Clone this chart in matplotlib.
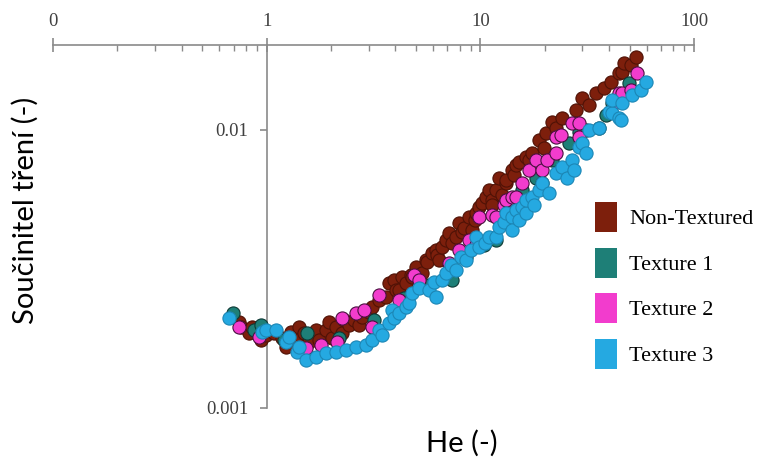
import matplotlib.pyplot as plt
from matplotlib.patches import Patch
from matplotlib.ticker import NullLocator

# Hersey number He (-) and friction coefficient (-)
he_non = [0.740, 0.755, 0.823, 0.850, 0.937, 0.99, 1.079, 1.176, 1.227, 1.296,
          1.382, 1.412, 1.490, 1.573, 1.696, 1.752, 1.889, 1.951, 2.017, 2.104,
          2.245, 2.295, 2.421, 2.556, 2.697, 2.786, 3.004, 3.103, 3.346, 3.610,
          3.728, 3.93, 4.021, 4.151, 4.289, 4.478, 4.73, 4.78, 4.988, 5.32,
          5.56, 5.62, 5.928, 6.19, 6.25, 6.39, 6.60, 6.89, 7.12, 7.35,
          7.68, 7.93, 8.19, 8.37, 8.83, 9.12, 9.42, 9.53, 9.84, 10.16,
          10.61, 10.96, 11.32, 11.32, 11.82, 12.2, 12.61, 13.17, 13.17, 14.05,
          14.35, 14.67, 15.1, 16.33, 16.9, 17.43, 18.8, 19.83, 20.27, 21.62,
          22.58, 24.08, 28.02, 29.88, 32.2, 34.75, 37.9, 40.87, 44.5, 46.0,
          47.0, 50.7, 53.5]
f_non = [0.00204, 0.00196, 0.00186, 0.00196, 0.00176, 0.00183, 0.00186, 0.00179, 0.00166, 0.00188,
         0.00176, 0.00196, 0.00186, 0.00173, 0.00191, 0.00176, 0.00191, 0.00204, 0.00179, 0.00196,
         0.00186, 0.00207, 0.00199, 0.00207, 0.00199, 0.00212, 0.00221, 0.00231, 0.00244, 0.00251,
         0.00282, 0.00289, 0.00266, 0.00266, 0.00296, 0.00282, 0.00301, 0.00296, 0.00322, 0.00306,
         0.00341, 0.00335, 0.00361, 0.00370, 0.00355, 0.00341, 0.00379, 0.00402, 0.00426, 0.00392,
         0.00412, 0.00463, 0.00430, 0.00444, 0.00486, 0.00437, 0.00475, 0.00503, 0.00528, 0.00546,
         0.00574, 0.00608, 0.00560, 0.00537, 0.00608, 0.00672, 0.00583, 0.00645, 0.00661, 0.00718,
         0.00689, 0.00748, 0.00767, 0.00800, 0.00780, 0.00827, 0.00921, 0.00862, 0.00975, 0.01069,
         0.01017, 0.01105, 0.0118, 0.01303, 0.01230, 0.01359, 0.01416, 0.01489, 0.01603, 0.01617,
         0.01742, 0.01714, 0.01831]

he_t1 = [0.693, 0.869, 0.937, 1.201, 1.539, 2.174, 3.171, 4.383, 5.737, 7.35,
         8.55, 10.39, 11.82, 13.6, 15.65, 18.2, 19.41, 21.62, 26.0, 28.9,
         31.2, 35.9, 38.7, 41.3, 49.6]
f_t1 = [0.00220, 0.00191, 0.00199, 0.00176, 0.00186, 0.00179, 0.00207, 0.00249, 0.00277, 0.00289,
        0.00349, 0.00386, 0.00402, 0.00474, 0.00608, 0.00672, 0.00645, 0.0078, 0.00898, 0.00983,
        0.0100, 0.01017, 0.01132, 0.0125, 0.01476]

he_t2 = [0.740, 0.917, 1.522, 1.790, 2.128, 2.245, 2.612, 2.85, 3.103, 3.346,
         4.151, 4.88, 5.151, 7.12, 7.93, 8.83, 9.53, 9.84, 11.32, 11.82,
         12.88, 13.17, 14.05, 14.67, 15.65, 16.9, 18.2, 19.41, 20.5, 22.58,
         22.58, 23.8, 26.83, 28.9, 28.9, 43.1, 43.6, 44.5, 46.0, 50.7,
         54.1]
f_t2 = [0.00196, 0.0018, 0.00164, 0.00168, 0.00173, 0.00211, 0.0022, 0.00225, 0.00196, 0.00255,
        0.00244, 0.00301, 0.00288, 0.00332, 0.0037, 0.00402, 0.00386, 0.00486, 0.00494, 0.00486,
        0.00537, 0.0056, 0.00574, 0.00574, 0.00645, 0.00718, 0.0078, 0.00718, 0.0078, 0.00827,
        0.00944, 0.00959, 0.0106, 0.0106, 0.00944, 0.01261, 0.01303, 0.01359, 0.01359, 0.01393,
        0.01603]

he_t3 = [0.664, 0.947, 0.99, 1.102, 1.227, 1.267, 1.382, 1.412, 1.522, 1.696,
         1.889, 2.104, 2.344, 2.612, 2.909, 3.103, 3.346, 3.46, 3.727, 3.85,
         3.93, 4.151, 4.478, 4.624, 4.78, 5.151, 5.737, 6.06, 6.19, 6.60,
         6.89, 7.27, 7.68, 8.10, 8.55, 9.03, 9.53, 9.84, 10.5, 10.96,
         11.82, 12.2, 12.88, 13.17, 14.05, 14.05, 14.67, 15.1, 15.65, 16.33,
         16.33, 17.43, 17.81, 18.8, 19.41, 20.9, 22.58, 24.08, 25.4, 26.83,
         27.4, 28.9, 29.88, 31.2, 32.2, 35.9, 40.0, 41.3, 41.3, 44.5,
         45.5, 46.0, 51.2, 56.5, 59.6]
f_t3 = [0.00211, 0.00188, 0.00191, 0.00191, 0.00173, 0.0018, 0.00159, 0.00166, 0.00149, 0.00153,
        0.00158, 0.00159, 0.00162, 0.00166, 0.00168, 0.00176, 0.00191, 0.00183, 0.00202, 0.00225,
        0.00211, 0.0022, 0.00231, 0.00239, 0.00259, 0.0027, 0.00266, 0.00284, 0.00251, 0.00288,
        0.00306, 0.00327, 0.00313, 0.0035, 0.00341, 0.0037, 0.00412, 0.00379, 0.00392, 0.00412,
        0.00412, 0.00448, 0.00467, 0.00503, 0.00486, 0.00437, 0.00515, 0.00474, 0.00528, 0.00503,
        0.0056, 0.00574, 0.00537, 0.00608, 0.00645, 0.00593, 0.0070, 0.00736, 0.00672, 0.0078,
        0.00718, 0.00869, 0.00898, 0.00827, 0.0100, 0.01017, 0.01161, 0.01151, 0.01282, 0.01105,
        0.01086, 0.0125, 0.01336, 0.01393, 0.01489]

labels = ['Non-Textured', 'Texture 1', 'Texture 2', 'Texture 3']
colors = ['#7d1f0c', '#1e7f77', '#f23ccd', '#25a9e1']
edges = ['#4f1206', '#0d3935', '#4a1040', '#1c86b5']

x_ticks = [0.1, 1, 10, 100]
x_ticklabels = ['0', '1', '10', '100']
y_ticks = [0.001, 0.01]
y_ticklabels = ['0.001', '0.01']

fig = plt.figure(figsize=(7.58, 4.59), dpi=100)
ax = fig.add_axes([53 / 758, 51 / 459, 641 / 758, 363 / 459])
ax.set_xscale('log')
ax.set_yscale('log')

series = [(he_non, f_non), (he_t1, f_t1), (he_t2, f_t2), (he_t3, f_t3)]
for (he, f), c, ec in zip(series, colors, edges):
    ax.scatter(he, f, s=90, c=c, edgecolors=ec, linewidths=0.8, zorder=3)

ax.set_xlim(0.1, 100)
ax.set_ylim(0.001, 0.0202)

# axes cross at He = 1, x axis on top
for s in ['bottom', 'right']:
    ax.spines[s].set_visible(False)
ax.spines['left'].set_position(('data', 1))
for s in ['top', 'left']:
    ax.spines[s].set_color('#8a8a8a')
    ax.spines[s].set_linewidth(1.2)

ax.xaxis.tick_top()
ax.set_xticks(x_ticks, x_ticklabels)
ax.set_yticks(y_ticks, y_ticklabels)
ax.yaxis.set_minor_locator(NullLocator())
ax.tick_params(axis='x', which='major', direction='inout', length=10, width=1.2,
               color='#8a8a8a', pad=6, labelsize=13.5, labelcolor='#404040')
ax.tick_params(axis='x', which='minor', direction='in', length=4, width=1.0, color='#8a8a8a')
ax.tick_params(axis='y', which='major', direction='out', length=5, width=1.2,
               color='#8a8a8a', pad=8, labelsize=13.5, labelcolor='#404040')
for lab in ax.get_xticklabels() + ax.get_yticklabels():
    lab.set_family('Liberation Serif')

handles = [Patch(facecolor=c, edgecolor='none') for c in colors]
ax.legend(handles, labels, loc='upper left', bbox_to_anchor=(595 / 758, 1 - 202 / 459),
          bbox_transform=fig.transFigure, frameon=False, borderpad=0, borderaxespad=0,
          handlelength=1.0, handleheight=1.7, handletextpad=0.55, labelspacing=0.7,
          prop={'family': 'Liberation Serif', 'size': 16})

fig.text(25 / 758, 1 - 210 / 459, 'Součinitel tření (-)', rotation=90, ha='center',
         va='center', family='Lato', fontsize=21)
fig.text(462 / 758, 1 - 443 / 459, 'He (-)', ha='center', va='center',
         family='Lato', fontsize=21)

fig.savefig('out.png', dpi=100)
